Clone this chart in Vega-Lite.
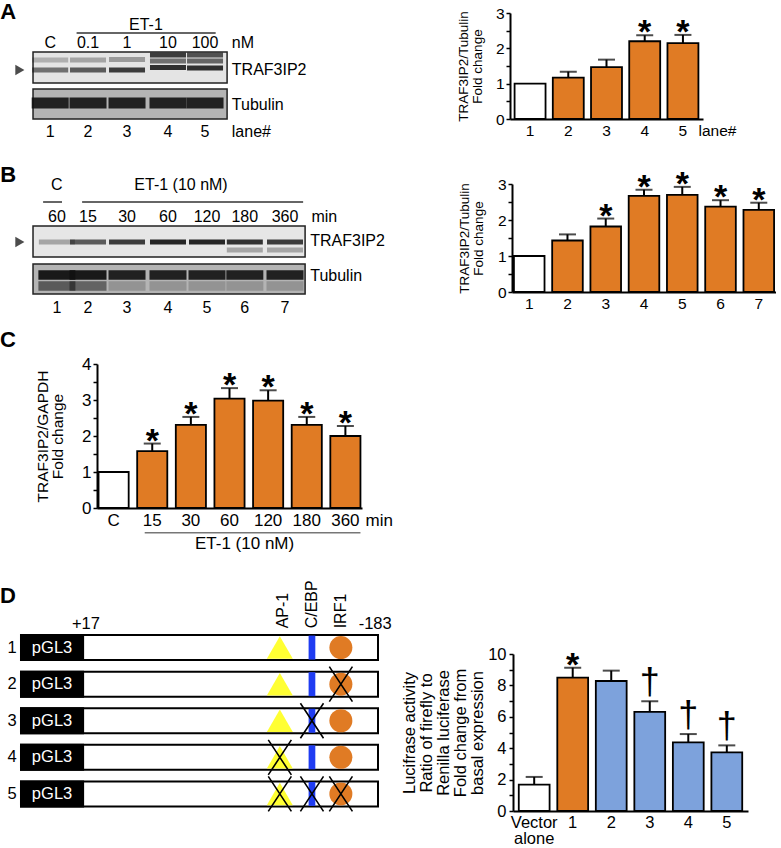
{
  "$schema": "https://vega.github.io/schema/vega-lite/v6.json",
  "padding": 0,
  "background": "white",
  "spacing": 0,
  "resolve": {"scale": {"fill": "independent", "opacity": "independent"}},
  "config": {
    "font": "Liberation Sans",
    "view": {"stroke": null},
    "concat": {"spacing": 0},
    "axis": {"domainColor": "black", "domainWidth": 2, "tickColor": "black", "tickWidth": 1.5, "labelColor": "black", "titleColor": "black", "grid": false, "titleFontWeight": "normal", "labelFont": "Liberation Sans", "titleFont": "Liberation Sans", "labelOverlap": false},
    "text": {"font": "Liberation Sans", "color": "black"}
  },
  "vconcat": [
    {
      "resolve": {"scale": {"fill": "independent", "opacity": "independent"}},
      "hconcat": [
        {
          "width": 330, "height": 155,
          "layer": [
            {
              "data": {"values": [{"blot": "TRAF3IP2", "x1": 0.604, "x2": 5.53, "y1": 5.2, "y2": 8.3}, {"blot": "Tubulin", "x1": 0.604, "x2": 5.53, "y1": 8.9, "y2": 11.9}]},
              "mark": {"type": "rect", "stroke": "#222", "strokeWidth": 1.5},
              "encoding": {
                "x": {"field": "x1", "type": "quantitative", "scale": {"domain": [-0.234, 8.142]}, "axis": null},
                "x2": {"field": "x2"},
                "y": {"field": "y1", "type": "quantitative", "scale": {"domain": [0, 15.5], "reverse": true}, "axis": null},
                "y2": {"field": "y2"},
                "fill": {"field": "blot", "type": "nominal", "scale": {"domain": ["TRAF3IP2", "Tubulin"], "range": ["#e4e4e4", "#b4b4b4"]}, "legend": null}
              }
            },
            {
              "data": {"values": [
                {"pos": 1.04, "y": 7.0, "intensity": 0.55}, {"pos": 2, "y": 7.0, "intensity": 0.65}, {"pos": 2.99, "y": 7.0, "intensity": 0.8}, {"pos": 4.03, "y": 6.75, "intensity": 0.85}, {"pos": 4.97, "y": 6.8, "intensity": 0.85},
                {"pos": 1.04, "y": 6.0, "intensity": 0.25}, {"pos": 2, "y": 6.0, "intensity": 0.3}, {"pos": 2.99, "y": 5.95, "intensity": 0.35}, {"pos": 4.03, "y": 5.5, "intensity": 0.8}, {"pos": 4.97, "y": 5.5, "intensity": 0.7},
                {"pos": 4.03, "y": 6.1, "intensity": 0.55}, {"pos": 4.97, "y": 6.1, "intensity": 0.6}
              ]},
              "mark": {"type": "point", "shape": "M-1,-0.14L1,-0.14L1,0.14L-1,0.14Z", "filled": true, "color": "#111", "size": 1296, "strokeWidth": 0},
              "encoding": {
                "x": {"field": "pos", "type": "quantitative", "scale": {"domain": [-0.234, 8.142]}, "axis": null},
                "y": {"field": "y", "type": "quantitative", "scale": {"domain": [0, 15.5], "reverse": true}, "axis": null},
                "opacity": {"field": "intensity", "type": "quantitative", "scale": {"domain": [0, 1], "range": [0, 1]}, "legend": null}
              }
            },
            {
              "data": {"values": [
                {"pos": 1.04, "y": 10.3, "intensity": 0.9}, {"pos": 2, "y": 10.3, "intensity": 0.9}, {"pos": 2.99, "y": 10.3, "intensity": 0.9}, {"pos": 4.03, "y": 10.3, "intensity": 0.9}, {"pos": 4.97, "y": 10.3, "intensity": 0.9}
              ]},
              "mark": {"type": "point", "shape": "M-1,-0.3L1,-0.3L1,0.3L-1,0.3Z", "filled": true, "color": "#111", "size": 1369, "strokeWidth": 0},
              "encoding": {
                "x": {"field": "pos", "type": "quantitative", "scale": {"domain": [-0.234, 8.142]}, "axis": null},
                "y": {"field": "y", "type": "quantitative", "scale": {"domain": [0, 15.5], "reverse": true}, "axis": null},
                "opacity": {"field": "intensity", "type": "quantitative", "scale": {"domain": [0, 1], "range": [0, 1]}, "legend": null}
              }
            },
            {
              "data": {"values": [{"x1": 1.71, "x2": 5.24, "y": 3.3}]},
              "mark": {"type": "rule", "color": "#333", "strokeWidth": 1.5},
              "encoding": {
                "x": {"field": "x1", "type": "quantitative", "scale": {"domain": [-0.234, 8.142]}, "axis": null},
                "x2": {"field": "x2"},
                "y": {"field": "y", "type": "quantitative", "scale": {"domain": [0, 15.5], "reverse": true}, "axis": null}
              }
            },
            {
              "data": {"values": [{"pos": 0.27, "y": 7.0}]},
              "mark": {"type": "point", "shape": "triangle-right", "filled": true, "color": "black", "size": 110},
              "encoding": {
                "x": {"field": "pos", "type": "quantitative", "scale": {"domain": [-0.234, 8.142]}, "axis": null},
                "y": {"field": "y", "type": "quantitative", "scale": {"domain": [0, 15.5], "reverse": true}, "axis": null}
              }
            },
            {
              "data": {"values": [
                {"label": "ET-1", "pos": 3.47, "y": 2.5},
                {"label": "C", "pos": 1.04, "y": 4.3}, {"label": "0.1", "pos": 2, "y": 4.3}, {"label": "1", "pos": 2.99, "y": 4.3}, {"label": "10", "pos": 4.03, "y": 4.3}, {"label": "100", "pos": 4.97, "y": 4.3},
                {"label": "1", "pos": 1.04, "y": 13.2}, {"label": "2", "pos": 2, "y": 13.2}, {"label": "3", "pos": 2.99, "y": 13.2}, {"label": "4", "pos": 4.03, "y": 13.2}, {"label": "5", "pos": 4.97, "y": 13.2}
              ]},
              "mark": {"type": "text", "fontSize": 16, "align": "center", "baseline": "middle"},
              "encoding": {
                "x": {"field": "pos", "type": "quantitative", "scale": {"domain": [-0.234, 8.142]}, "axis": null},
                "y": {"field": "y", "type": "quantitative", "scale": {"domain": [0, 15.5], "reverse": true}, "axis": null},
                "text": {"field": "label"}
              }
            },
            {
              "data": {"values": [
                {"label": "nM", "pos": 5.65, "y": 4.3}, {"label": "TRAF3IP2", "pos": 5.65, "y": 7.0}, {"label": "Tubulin", "pos": 5.65, "y": 10.5}, {"label": "lane#", "pos": 5.65, "y": 13.2}
              ]},
              "mark": {"type": "text", "fontSize": 16, "align": "left", "baseline": "middle"},
              "encoding": {
                "x": {"field": "pos", "type": "quantitative", "scale": {"domain": [-0.234, 8.142]}, "axis": null},
                "y": {"field": "y", "type": "quantitative", "scale": {"domain": [0, 15.5], "reverse": true}, "axis": null},
                "text": {"field": "label"}
              }
            },
            {
              "data": {"values": [{"label": "A", "pos": -0.23, "y": 1.2}]},
              "mark": {"type": "text", "fontSize": 22, "fontWeight": "bold", "align": "left", "baseline": "middle"},
              "encoding": {
                "x": {"field": "pos", "type": "quantitative", "scale": {"domain": [-0.234, 8.142]}, "axis": null},
                "y": {"field": "y", "type": "quantitative", "scale": {"domain": [0, 15.5], "reverse": true}, "axis": null},
                "text": {"field": "label"}
              }
            }
          ]
        },
        {
          "spacing": 0,
          "resolve": {"scale": {"fill": "independent", "opacity": "independent"}},
          "vconcat": [
            {"width": 150, "height": 5.25, "data": {"values": [{}]}, "mark": {"type": "point", "size": 0, "opacity": 0}, "encoding": {}},
            {
              "width": 193, "height": 106,
              "data": {"values": [
                {"lane": "1", "value": 1.0, "err": null, "group": "control", "sig": ""},
                {"lane": "2", "value": 1.17, "err": 1.34, "group": "ET-1", "sig": ""},
                {"lane": "3", "value": 1.47, "err": 1.68, "group": "ET-1", "sig": ""},
                {"lane": "4", "value": 2.2, "err": 2.37, "group": "ET-1", "sig": "*"},
                {"lane": "5", "value": 2.15, "err": 2.38, "group": "ET-1", "sig": "*"}
              ]},
              "encoding": {
                "x": {"field": "lane", "type": "nominal", "sort": null, "scale": {"domain": ["1", "2", "3", "4", "5"], "paddingInner": 0.19, "paddingOuter": 0.12},
                  "axis": {"labelAngle": 0, "ticks": false, "labelFontSize": 15.5, "labelPadding": 4, "title": "lane#", "titleAngle": 0, "titleAlign": "left", "titleBaseline": "top", "titleFontSize": 15.5, "titleX": 188, "titleY": 4}}
              },
              "layer": [
                {
                  "mark": {"type": "bar", "stroke": "black", "strokeWidth": 1.8},
                  "encoding": {
                    "y": {"field": "value", "type": "quantitative", "scale": {"domain": [0, 3]},
                      "axis": {"values": [0, 0.5, 1, 1.5, 2, 2.5, 3], "labelExpr": "datum.value % 1 === 0 ? format(datum.value, 'd') : ''", "labelOverlap": false, "tickSize": 4, "labelFontSize": 15.5, "labelPadding": 2, "title": ["TRAF3IP2/Tubulin", "Fold change"], "titleFontSize": 13.5, "titleLineHeight": 14, "titlePadding": 11}},
                    "fill": {"field": "group", "type": "nominal", "scale": {"domain": ["control", "ET-1"], "range": ["white", "#E07B24"]}, "legend": null}
                  }
                },
                {
                  "transform": [{"filter": "datum.err != null"}],
                  "mark": {"type": "rule", "color": "black", "strokeWidth": 2},
                  "encoding": {
                    "y": {"field": "value", "type": "quantitative", "scale": {"domain": [0, 3]},
                      "axis": {"values": [0, 0.5, 1, 1.5, 2, 2.5, 3], "labelExpr": "datum.value % 1 === 0 ? format(datum.value, 'd') : ''", "labelOverlap": false, "tickSize": 4, "labelFontSize": 15.5, "labelPadding": 2, "title": ["TRAF3IP2/Tubulin", "Fold change"], "titleFontSize": 13.5, "titleLineHeight": 14, "titlePadding": 11}},
                    "y2": {"field": "err"}
                  }
                },
                {
                  "transform": [{"filter": "datum.err != null"}],
                  "mark": {"type": "tick", "color": "black", "size": 17, "thickness": 2},
                  "encoding": {
                    "y": {"field": "err", "type": "quantitative", "scale": {"domain": [0, 3]},
                      "axis": {"values": [0, 0.5, 1, 1.5, 2, 2.5, 3], "labelExpr": "datum.value % 1 === 0 ? format(datum.value, 'd') : ''", "labelOverlap": false, "tickSize": 4, "labelFontSize": 15.5, "labelPadding": 2, "title": ["TRAF3IP2/Tubulin", "Fold change"], "titleFontSize": 13.5, "titleLineHeight": 14, "titlePadding": 11}}
                  }
                },
                {
                  "transform": [{"filter": "datum.sig != ''"}],
                  "mark": {"type": "text", "fontSize": 34, "fontWeight": "bold", "baseline": "alphabetic", "dy": 8},
                  "encoding": {
                    "y": {"field": "err", "type": "quantitative", "scale": {"domain": [0, 3]},
                      "axis": {"values": [0, 0.5, 1, 1.5, 2, 2.5, 3], "labelExpr": "datum.value % 1 === 0 ? format(datum.value, 'd') : ''", "labelOverlap": false, "tickSize": 4, "labelFontSize": 15.5, "labelPadding": 2, "title": ["TRAF3IP2/Tubulin", "Fold change"], "titleFontSize": 13.5, "titleLineHeight": 14, "titlePadding": 11}},
                    "text": {"field": "sig"}
                  }
                }
              ]
            }
          ]
        }
      ],
      "spacing": 126
    },
    {
      "resolve": {"scale": {"fill": "independent", "opacity": "independent"}},
      "hconcat": [
        {
          "width": 390, "height": 167,
          "layer": [
            {
              "data": {"values": [{"blot": "TRAF3IP2", "x1": 0.604, "x2": 7.51, "y1": 7.1, "y2": 10.2}, {"blot": "Tubulin", "x1": 0.604, "x2": 7.51, "y1": 10.9, "y2": 13.9}]},
              "mark": {"type": "rect", "stroke": "#222", "strokeWidth": 1.5},
              "encoding": {
                "x": {"field": "x1", "type": "quantitative", "scale": {"domain": [-0.234, 9.665]}, "axis": null},
                "x2": {"field": "x2"},
                "y": {"field": "y1", "type": "quantitative", "scale": {"domain": [0, 16.7], "reverse": true}, "axis": null},
                "y2": {"field": "y2"},
                "fill": {"field": "blot", "type": "nominal", "scale": {"domain": ["TRAF3IP2", "Tubulin"], "range": ["#e6e6e6", "#b4b4b4"]}, "legend": null}
              }
            },
            {
              "data": {"values": [
                {"pos": 1.21, "y": 8.7, "intensity": 0.3}, {"pos": 2, "y": 8.7, "intensity": 0.65}, {"pos": 2.99, "y": 8.7, "intensity": 0.8}, {"pos": 4.03, "y": 8.7, "intensity": 0.9}, {"pos": 5.02, "y": 8.7, "intensity": 0.9}, {"pos": 5.98, "y": 8.7, "intensity": 0.85}, {"pos": 7.0, "y": 8.7, "intensity": 0.8},
                {"pos": 5.98, "y": 9.5, "intensity": 0.3}, {"pos": 7.0, "y": 9.5, "intensity": 0.3}
              ]},
              "mark": {"type": "point", "shape": "M-1,-0.14L1,-0.14L1,0.14L-1,0.14Z", "filled": true, "color": "#111", "size": 1296, "strokeWidth": 0},
              "encoding": {
                "x": {"field": "pos", "type": "quantitative", "scale": {"domain": [-0.234, 9.665]}, "axis": null},
                "y": {"field": "y", "type": "quantitative", "scale": {"domain": [0, 16.7], "reverse": true}, "axis": null},
                "opacity": {"field": "intensity", "type": "quantitative", "scale": {"domain": [0, 1], "range": [0, 1]}, "legend": null}
              }
            },
            {
              "data": {"values": [
                {"pos": 1.21, "y": 12.0, "intensity": 0.95}, {"pos": 2, "y": 12.0, "intensity": 0.95}, {"pos": 2.99, "y": 12.0, "intensity": 0.9}, {"pos": 4.03, "y": 12.0, "intensity": 0.9}, {"pos": 5.02, "y": 12.0, "intensity": 0.9}, {"pos": 5.98, "y": 12.0, "intensity": 0.9}, {"pos": 7.0, "y": 12.0, "intensity": 0.9},
                {"pos": 1.21, "y": 13.1, "intensity": 0.55}, {"pos": 2, "y": 13.1, "intensity": 0.5}, {"pos": 2.99, "y": 13.1, "intensity": 0.2}, {"pos": 4.03, "y": 13.1, "intensity": 0.2}, {"pos": 5.02, "y": 13.1, "intensity": 0.2}, {"pos": 5.98, "y": 13.1, "intensity": 0.2}, {"pos": 7.0, "y": 13.1, "intensity": 0.2}
              ]},
              "mark": {"type": "point", "shape": "M-1,-0.26L1,-0.26L1,0.26L-1,0.26Z", "filled": true, "color": "#111", "size": 1369, "strokeWidth": 0},
              "encoding": {
                "x": {"field": "pos", "type": "quantitative", "scale": {"domain": [-0.234, 9.665]}, "axis": null},
                "y": {"field": "y", "type": "quantitative", "scale": {"domain": [0, 16.7], "reverse": true}, "axis": null},
                "opacity": {"field": "intensity", "type": "quantitative", "scale": {"domain": [0, 1], "range": [0, 1]}, "legend": null}
              }
            },
            {
              "data": {"values": [{"x1": 0.86, "x2": 1.34, "y": 4.7}, {"x1": 1.85, "x2": 7.46, "y": 4.7}]},
              "mark": {"type": "rule", "color": "#333", "strokeWidth": 1.5},
              "encoding": {
                "x": {"field": "x1", "type": "quantitative", "scale": {"domain": [-0.234, 9.665]}, "axis": null},
                "x2": {"field": "x2"},
                "y": {"field": "y", "type": "quantitative", "scale": {"domain": [0, 16.7], "reverse": true}, "axis": null}
              }
            },
            {
              "data": {"values": [{"pos": 0.27, "y": 8.7}]},
              "mark": {"type": "point", "shape": "triangle-right", "filled": true, "color": "black", "size": 110},
              "encoding": {
                "x": {"field": "pos", "type": "quantitative", "scale": {"domain": [-0.234, 9.665]}, "axis": null},
                "y": {"field": "y", "type": "quantitative", "scale": {"domain": [0, 16.7], "reverse": true}, "axis": null}
              }
            },
            {
              "data": {"values": [
                {"label": "C", "pos": 1.21, "y": 3.0}, {"label": "ET-1 (10 nM)", "pos": 4.36, "y": 3.0},
                {"label": "60", "pos": 1.21, "y": 6.2}, {"label": "15", "pos": 2, "y": 6.2}, {"label": "30", "pos": 2.99, "y": 6.2}, {"label": "60", "pos": 4.03, "y": 6.2}, {"label": "120", "pos": 5.02, "y": 6.2}, {"label": "180", "pos": 5.98, "y": 6.2}, {"label": "360", "pos": 7.0, "y": 6.2},
                {"label": "1", "pos": 1.21, "y": 15.3}, {"label": "2", "pos": 2, "y": 15.3}, {"label": "3", "pos": 2.99, "y": 15.3}, {"label": "4", "pos": 4.03, "y": 15.3}, {"label": "5", "pos": 5.02, "y": 15.3}, {"label": "6", "pos": 5.98, "y": 15.3}, {"label": "7", "pos": 7.0, "y": 15.3}
              ]},
              "mark": {"type": "text", "fontSize": 16, "align": "center", "baseline": "middle"},
              "encoding": {
                "x": {"field": "pos", "type": "quantitative", "scale": {"domain": [-0.234, 9.665]}, "axis": null},
                "y": {"field": "y", "type": "quantitative", "scale": {"domain": [0, 16.7], "reverse": true}, "axis": null},
                "text": {"field": "label"}
              }
            },
            {
              "data": {"values": [{"label": "min", "pos": 7.67, "y": 6.2}, {"label": "TRAF3IP2", "pos": 7.64, "y": 8.6}, {"label": "Tubulin", "pos": 7.64, "y": 12.1}]},
              "mark": {"type": "text", "fontSize": 16, "align": "left", "baseline": "middle"},
              "encoding": {
                "x": {"field": "pos", "type": "quantitative", "scale": {"domain": [-0.234, 9.665]}, "axis": null},
                "y": {"field": "y", "type": "quantitative", "scale": {"domain": [0, 16.7], "reverse": true}, "axis": null},
                "text": {"field": "label"}
              }
            },
            {
              "data": {"values": [{"label": "B", "pos": -0.23, "y": 2.0}]},
              "mark": {"type": "text", "fontSize": 22, "fontWeight": "bold", "align": "left", "baseline": "middle"},
              "encoding": {
                "x": {"field": "pos", "type": "quantitative", "scale": {"domain": [-0.234, 9.665]}, "axis": null},
                "y": {"field": "y", "type": "quantitative", "scale": {"domain": [0, 16.7], "reverse": true}, "axis": null},
                "text": {"field": "label"}
              }
            }
          ]
        },
        {
          "spacing": 0,
          "resolve": {"scale": {"fill": "independent", "opacity": "independent"}},
          "vconcat": [
            {"width": 150, "height": 12, "data": {"values": [{}]}, "mark": {"type": "point", "size": 0, "opacity": 0}, "encoding": {}},
            {
              "width": 264, "height": 108,
              "data": {"values": [
                {"lane": "1", "value": 1.0, "err": null, "group": "control", "sig": ""},
                {"lane": "2", "value": 1.43, "err": 1.6, "group": "ET-1", "sig": ""},
                {"lane": "3", "value": 1.82, "err": 2.04, "group": "ET-1", "sig": "*"},
                {"lane": "4", "value": 2.67, "err": 2.84, "group": "ET-1", "sig": "*"},
                {"lane": "5", "value": 2.7, "err": 2.92, "group": "ET-1", "sig": "*"},
                {"lane": "6", "value": 2.37, "err": 2.55, "group": "ET-1", "sig": "*"},
                {"lane": "7", "value": 2.28, "err": 2.48, "group": "ET-1", "sig": "*"}
              ]},
              "encoding": {
                "x": {"field": "lane", "type": "nominal", "sort": null, "scale": {"domain": ["1", "2", "3", "4", "5", "6", "7"], "paddingInner": 0.2, "paddingOuter": 0.05},
                  "axis": {"labelAngle": 0, "ticks": false, "labelFontSize": 15.5, "labelPadding": 4, "title": null}}
              },
              "layer": [
                {
                  "mark": {"type": "bar", "stroke": "black", "strokeWidth": 1.8},
                  "encoding": {
                    "y": {"field": "value", "type": "quantitative", "scale": {"domain": [0, 3]},
                      "axis": {"values": [0, 0.5, 1, 1.5, 2, 2.5, 3], "labelExpr": "datum.value % 1 === 0 ? format(datum.value, 'd') : ''", "labelOverlap": false, "tickSize": 4, "labelFontSize": 15.5, "labelPadding": 2, "title": ["TRAF3IP2/Tubulin", "Fold change"], "titleFontSize": 13.5, "titleLineHeight": 14, "titlePadding": 12}},
                    "fill": {"field": "group", "type": "nominal", "scale": {"domain": ["control", "ET-1"], "range": ["white", "#E07B24"]}, "legend": null}
                  }
                },
                {
                  "transform": [{"filter": "datum.err != null"}],
                  "mark": {"type": "rule", "color": "black", "strokeWidth": 2},
                  "encoding": {
                    "y": {"field": "value", "type": "quantitative", "scale": {"domain": [0, 3]},
                      "axis": {"values": [0, 0.5, 1, 1.5, 2, 2.5, 3], "labelExpr": "datum.value % 1 === 0 ? format(datum.value, 'd') : ''", "labelOverlap": false, "tickSize": 4, "labelFontSize": 15.5, "labelPadding": 2, "title": ["TRAF3IP2/Tubulin", "Fold change"], "titleFontSize": 13.5, "titleLineHeight": 14, "titlePadding": 12}},
                    "y2": {"field": "err"}
                  }
                },
                {
                  "transform": [{"filter": "datum.err != null"}],
                  "mark": {"type": "tick", "color": "black", "size": 17, "thickness": 2},
                  "encoding": {
                    "y": {"field": "err", "type": "quantitative", "scale": {"domain": [0, 3]},
                      "axis": {"values": [0, 0.5, 1, 1.5, 2, 2.5, 3], "labelExpr": "datum.value % 1 === 0 ? format(datum.value, 'd') : ''", "labelOverlap": false, "tickSize": 4, "labelFontSize": 15.5, "labelPadding": 2, "title": ["TRAF3IP2/Tubulin", "Fold change"], "titleFontSize": 13.5, "titleLineHeight": 14, "titlePadding": 12}}
                  }
                },
                {
                  "transform": [{"filter": "datum.sig != ''"}],
                  "mark": {"type": "text", "fontSize": 34, "fontWeight": "bold", "baseline": "alphabetic", "dy": 8},
                  "encoding": {
                    "y": {"field": "err", "type": "quantitative", "scale": {"domain": [0, 3]},
                      "axis": {"values": [0, 0.5, 1, 1.5, 2, 2.5, 3], "labelExpr": "datum.value % 1 === 0 ? format(datum.value, 'd') : ''", "labelOverlap": false, "tickSize": 4, "labelFontSize": 15.5, "labelPadding": 2, "title": ["TRAF3IP2/Tubulin", "Fold change"], "titleFontSize": 13.5, "titleLineHeight": 14, "titlePadding": 12}},
                    "text": {"field": "sig"}
                  }
                }
              ]
            }
          ]
        }
      ],
      "spacing": 67
    },
    {
      "resolve": {"scale": {"fill": "independent", "opacity": "independent"}},
      "hconcat": [
        {
          "width": 35, "height": 258,
          "data": {"values": [{"label": "C"}]},
          "mark": {"type": "text", "fontSize": 22, "fontWeight": "bold", "align": "left", "baseline": "middle"},
          "encoding": {
            "x": {"datum": 0, "type": "quantitative", "scale": {"domain": [0, 1]}, "axis": null},
            "y": {"datum": 0.07, "type": "quantitative", "scale": {"domain": [0, 1], "reverse": true}, "axis": null},
            "text": {"field": "label"}
          }
        },
        {
          "spacing": 0,
          "resolve": {"scale": {"fill": "independent", "opacity": "independent"}},
          "vconcat": [
            {"width": 150, "height": 32.5, "data": {"values": [{}]}, "mark": {"type": "point", "size": 0, "opacity": 0}, "encoding": {}},
            {
              "width": 265, "height": 144,
              "layer": [
                {
                  "data": {"values": [
                    {"time": "C", "value": 1.0, "err": null, "group": "control", "sig": ""},
                    {"time": "15", "value": 1.58, "err": 1.79, "group": "ET-1", "sig": "*"},
                    {"time": "30", "value": 2.31, "err": 2.53, "group": "ET-1", "sig": "*"},
                    {"time": "60", "value": 3.04, "err": 3.33, "group": "ET-1", "sig": "*"},
                    {"time": "120", "value": 2.98, "err": 3.27, "group": "ET-1", "sig": "*"},
                    {"time": "180", "value": 2.31, "err": 2.53, "group": "ET-1", "sig": "*"},
                    {"time": "360", "value": 2.0, "err": 2.28, "group": "ET-1", "sig": "*"}
                  ]},
                  "layer": [
                    {
                      "mark": {"type": "bar", "stroke": "black", "strokeWidth": 1.8},
                      "encoding": {
                        "x": {"field": "time", "type": "nominal", "sort": null, "scale": {"domain": ["C", "15", "30", "60", "120", "180", "360"], "paddingInner": 0.22, "paddingOuter": 0.04},
                          "axis": {"labelAngle": 0, "ticks": false, "labelFontSize": 17, "labelPadding": 4, "title": "min", "titleAngle": 0, "titleAlign": "left", "titleBaseline": "top", "titleFontSize": 17, "titleX": 268, "titleY": 4}},
                        "y": {"field": "value", "type": "quantitative", "scale": {"domain": [0, 4]},
                          "axis": {"values": [0, 0.5, 1, 1.5, 2, 2.5, 3, 3.5, 4], "labelExpr": "datum.value % 1 === 0 ? format(datum.value, 'd') : ''", "labelOverlap": false, "tickSize": 4, "labelFontSize": 17, "labelPadding": 2, "title": ["TRAF3IP2/GAPDH", "Fold change"], "titleFontSize": 15.5, "titleLineHeight": 15, "titlePadding": 16}},
                        "fill": {"field": "group", "type": "nominal", "scale": {"domain": ["control", "ET-1"], "range": ["white", "#E07B24"]}, "legend": null}
                      }
                    },
                    {
                      "transform": [{"filter": "datum.err != null"}],
                      "mark": {"type": "rule", "color": "black", "strokeWidth": 2},
                      "encoding": {
                        "x": {"field": "time", "type": "nominal", "sort": null, "scale": {"domain": ["C", "15", "30", "60", "120", "180", "360"]}},
                        "y": {"field": "value", "type": "quantitative", "scale": {"domain": [0, 4]},
                          "axis": {"values": [0, 0.5, 1, 1.5, 2, 2.5, 3, 3.5, 4], "labelExpr": "datum.value % 1 === 0 ? format(datum.value, 'd') : ''", "labelOverlap": false, "tickSize": 4, "labelFontSize": 17, "labelPadding": 2, "title": ["TRAF3IP2/GAPDH", "Fold change"], "titleFontSize": 15.5, "titleLineHeight": 15, "titlePadding": 16}},
                        "y2": {"field": "err"}
                      }
                    },
                    {
                      "transform": [{"filter": "datum.err != null"}],
                      "mark": {"type": "tick", "color": "black", "size": 17, "thickness": 2},
                      "encoding": {
                        "x": {"field": "time", "type": "nominal", "sort": null, "scale": {"domain": ["C", "15", "30", "60", "120", "180", "360"]}},
                        "y": {"field": "err", "type": "quantitative", "scale": {"domain": [0, 4]},
                          "axis": {"values": [0, 0.5, 1, 1.5, 2, 2.5, 3, 3.5, 4], "labelExpr": "datum.value % 1 === 0 ? format(datum.value, 'd') : ''", "labelOverlap": false, "tickSize": 4, "labelFontSize": 17, "labelPadding": 2, "title": ["TRAF3IP2/GAPDH", "Fold change"], "titleFontSize": 15.5, "titleLineHeight": 15, "titlePadding": 16}}
                      }
                    },
                    {
                      "transform": [{"filter": "datum.sig != ''"}],
                      "mark": {"type": "text", "fontSize": 34, "fontWeight": "bold", "baseline": "alphabetic", "dy": 8},
                      "encoding": {
                        "x": {"field": "time", "type": "nominal", "sort": null, "scale": {"domain": ["C", "15", "30", "60", "120", "180", "360"]}},
                        "y": {"field": "err", "type": "quantitative", "scale": {"domain": [0, 4]},
                          "axis": {"values": [0, 0.5, 1, 1.5, 2, 2.5, 3, 3.5, 4], "labelExpr": "datum.value % 1 === 0 ? format(datum.value, 'd') : ''", "labelOverlap": false, "tickSize": 4, "labelFontSize": 17, "labelPadding": 2, "title": ["TRAF3IP2/GAPDH", "Fold change"], "titleFontSize": 15.5, "titleLineHeight": 15, "titlePadding": 16}},
                        "text": {"field": "sig"}
                      }
                    }
                  ]
                },
                {
                  "data": {"values": [{"start": "15", "end": "360", "y": -0.69}]},
                  "mark": {"type": "rule", "color": "#777", "strokeWidth": 1.5},
                  "encoding": {
                    "x": {"field": "start", "type": "nominal", "sort": null, "bandPosition": 0.25, "scale": {"domain": ["C", "15", "30", "60", "120", "180", "360"]}},
                    "x2": {"field": "end", "bandPosition": 1},
                    "y": {"field": "y", "type": "quantitative", "scale": {"domain": [0, 4]},
                      "axis": {"values": [0, 0.5, 1, 1.5, 2, 2.5, 3, 3.5, 4], "labelExpr": "datum.value % 1 === 0 ? format(datum.value, 'd') : ''", "labelOverlap": false, "tickSize": 4, "labelFontSize": 17, "labelPadding": 2, "title": ["TRAF3IP2/GAPDH", "Fold change"], "titleFontSize": 15.5, "titleLineHeight": 15, "titlePadding": 16}}
                  }
                },
                {
                  "data": {"values": [{"time": "60", "y": -1.0, "label": "ET-1 (10 nM)"}]},
                  "mark": {"type": "text", "fontSize": 17, "baseline": "middle"},
                  "encoding": {
                    "x": {"field": "time", "type": "nominal", "sort": null, "bandPosition": 1, "scale": {"domain": ["C", "15", "30", "60", "120", "180", "360"]}},
                    "y": {"field": "y", "type": "quantitative", "scale": {"domain": [0, 4]},
                      "axis": {"values": [0, 0.5, 1, 1.5, 2, 2.5, 3, 3.5, 4], "labelExpr": "datum.value % 1 === 0 ? format(datum.value, 'd') : ''", "labelOverlap": false, "tickSize": 4, "labelFontSize": 17, "labelPadding": 2, "title": ["TRAF3IP2/GAPDH", "Fold change"], "titleFontSize": 15.5, "titleLineHeight": 15, "titlePadding": 16}},
                    "text": {"field": "label"}
                  }
                }
              ]
            }
          ]
        }
      ]
    },
    {
      "resolve": {"scale": {"fill": "independent", "opacity": "independent"}},
      "hconcat": [
        {
          "width": 395, "height": 268,
          "layer": [
            {
              "data": {"values": [{"construct": 1}, {"construct": 2}, {"construct": 3}, {"construct": 4}, {"construct": 5}]},
              "layer": [
                {
                  "mark": {"type": "bar", "orient": "horizontal", "fill": "white", "stroke": "black", "strokeWidth": 2, "height": 25},
                  "encoding": {
                    "x": {"datum": 0, "type": "quantitative", "scale": {"domain": [-5.88, 104.76]}, "axis": null},
                    "x2": {"datum": 100},
                    "y": {"field": "construct", "type": "quantitative", "scale": {"domain": [-0.711, 6.342], "reverse": true}, "axis": null}
                  }
                },
                {
                  "mark": {"type": "bar", "orient": "horizontal", "fill": "black", "stroke": "black", "strokeWidth": 2, "height": 25},
                  "encoding": {
                    "x": {"datum": 0, "type": "quantitative", "scale": {"domain": [-5.88, 104.76]}, "axis": null},
                    "x2": {"datum": 17.4},
                    "y": {"field": "construct", "type": "quantitative", "scale": {"domain": [-0.711, 6.342], "reverse": true}, "axis": null}
                  }
                },
                {
                  "mark": {"type": "text", "text": "pGL3", "color": "white", "fontSize": 16.5, "baseline": "middle"},
                  "encoding": {
                    "x": {"datum": 8.7, "type": "quantitative", "scale": {"domain": [-5.88, 104.76]}, "axis": null},
                    "y": {"field": "construct", "type": "quantitative", "scale": {"domain": [-0.711, 6.342], "reverse": true}, "axis": null}
                  }
                },
                {
                  "mark": {"type": "text", "fontSize": 16.5, "baseline": "middle"},
                  "encoding": {
                    "x": {"datum": -2.5, "type": "quantitative", "scale": {"domain": [-5.88, 104.76]}, "axis": null},
                    "y": {"field": "construct", "type": "quantitative", "scale": {"domain": [-0.711, 6.342], "reverse": true}, "axis": null},
                    "text": {"field": "construct"}
                  }
                }
              ]
            },
            {
              "data": {"values": [
                {"construct": 1, "site": "AP-1", "pos": 72.5, "mutated": false}, {"construct": 1, "site": "C/EBP", "pos": 81.5, "mutated": false}, {"construct": 1, "site": "IRF1", "pos": 89.6, "mutated": false},
                {"construct": 2, "site": "AP-1", "pos": 72.5, "mutated": false}, {"construct": 2, "site": "C/EBP", "pos": 81.5, "mutated": false}, {"construct": 2, "site": "IRF1", "pos": 89.6, "mutated": true},
                {"construct": 3, "site": "AP-1", "pos": 72.5, "mutated": false}, {"construct": 3, "site": "C/EBP", "pos": 81.5, "mutated": true}, {"construct": 3, "site": "IRF1", "pos": 89.6, "mutated": false},
                {"construct": 4, "site": "AP-1", "pos": 72.5, "mutated": true}, {"construct": 4, "site": "C/EBP", "pos": 81.5, "mutated": false}, {"construct": 4, "site": "IRF1", "pos": 89.6, "mutated": false},
                {"construct": 5, "site": "AP-1", "pos": 72.5, "mutated": true}, {"construct": 5, "site": "C/EBP", "pos": 81.5, "mutated": true}, {"construct": 5, "site": "IRF1", "pos": 89.6, "mutated": true}
              ]},
              "layer": [
                {
                  "transform": [{"filter": "datum.site == 'AP-1'"}],
                  "mark": {"type": "point", "shape": "triangle-up", "filled": true, "color": "#FFFF33", "size": 676, "opacity": 1},
                  "encoding": {
                    "x": {"field": "pos", "type": "quantitative", "scale": {"domain": [-5.88, 104.76]}, "axis": null},
                    "y": {"field": "construct", "type": "quantitative", "scale": {"domain": [-0.711, 6.342], "reverse": true}, "axis": null}
                  }
                },
                {
                  "transform": [{"filter": "datum.site == 'C/EBP'"}],
                  "mark": {"type": "point", "shape": "M-0.28,-1L0.28,-1L0.28,1L-0.28,1Z", "filled": true, "color": "#1F3CF2", "size": 576, "opacity": 1},
                  "encoding": {
                    "x": {"field": "pos", "type": "quantitative", "scale": {"domain": [-5.88, 104.76]}, "axis": null},
                    "y": {"field": "construct", "type": "quantitative", "scale": {"domain": [-0.711, 6.342], "reverse": true}, "axis": null}
                  }
                },
                {
                  "transform": [{"filter": "datum.site == 'IRF1'"}],
                  "mark": {"type": "point", "shape": "circle", "filled": true, "color": "#E07B24", "size": 529, "opacity": 1},
                  "encoding": {
                    "x": {"field": "pos", "type": "quantitative", "scale": {"domain": [-5.88, 104.76]}, "axis": null},
                    "y": {"field": "construct", "type": "quantitative", "scale": {"domain": [-0.711, 6.342], "reverse": true}, "axis": null}
                  }
                },
                {
                  "transform": [{"filter": "datum.mutated"}],
                  "mark": {"type": "point", "shape": "M-0.66,-1L0.66,1M0.66,-1L-0.66,1", "filled": false, "color": "black", "strokeWidth": 1.6, "size": 1225, "opacity": 1},
                  "encoding": {
                    "x": {"field": "pos", "type": "quantitative", "scale": {"domain": [-5.88, 104.76]}, "axis": null},
                    "y": {"field": "construct", "type": "quantitative", "scale": {"domain": [-0.711, 6.342], "reverse": true}, "axis": null}
                  }
                }
              ]
            },
            {
              "data": {"values": [{"label": "AP-1", "pos": 73.4}, {"label": "C/EBP", "pos": 81.5}, {"label": "IRF1", "pos": 89.6}]},
              "mark": {"type": "text", "angle": 270, "align": "left", "baseline": "middle", "fontSize": 16},
              "encoding": {
                "x": {"field": "pos", "type": "quantitative", "scale": {"domain": [-5.88, 104.76]}, "axis": null},
                "y": {"datum": 0.474, "type": "quantitative", "scale": {"domain": [-0.711, 6.342], "reverse": true}, "axis": null},
                "text": {"field": "label"}
              }
            },
            {
              "data": {"values": [{"label": "+17", "pos": 18.2}, {"label": "-183", "pos": 99.2}]},
              "mark": {"type": "text", "baseline": "middle", "fontSize": 16.5},
              "encoding": {
                "x": {"field": "pos", "type": "quantitative", "scale": {"domain": [-5.88, 104.76]}, "axis": null},
                "y": {"datum": 0.368, "type": "quantitative", "scale": {"domain": [-0.711, 6.342], "reverse": true}, "axis": null},
                "text": {"field": "label"}
              }
            },
            {
              "data": {"values": [{"label": "D", "pos": -5.88}]},
              "mark": {"type": "text", "align": "left", "baseline": "middle", "fontSize": 22, "fontWeight": "bold"},
              "encoding": {
                "x": {"field": "pos", "type": "quantitative", "scale": {"domain": [-5.88, 104.76]}, "axis": null},
                "y": {"datum": -0.42, "type": "quantitative", "scale": {"domain": [-0.711, 6.342], "reverse": true}, "axis": null},
                "text": {"field": "label"}
              }
            }
          ]
        },
        {
          "spacing": 0,
          "resolve": {"scale": {"fill": "independent", "opacity": "independent"}},
          "vconcat": [
            {"width": 150, "height": 65.75, "data": {"values": [{}]}, "mark": {"type": "point", "size": 0, "opacity": 0}, "encoding": {}},
            {
              "width": 235, "height": 157,
              "data": {"values": [
                {"construct": "Vector alone", "value": 1.68, "err": 2.17, "group": "vector", "sig": ""},
                {"construct": "1", "value": 8.49, "err": 9.13, "group": "wild type", "sig": "*"},
                {"construct": "2", "value": 8.28, "err": 8.94, "group": "mutant", "sig": ""},
                {"construct": "3", "value": 6.31, "err": 6.99, "group": "mutant", "sig": "†"},
                {"construct": "4", "value": 4.37, "err": 4.9, "group": "mutant", "sig": "†"},
                {"construct": "5", "value": 3.74, "err": 4.18, "group": "mutant", "sig": "†"}
              ]},
              "encoding": {
                "x": {"field": "construct", "type": "nominal", "sort": null, "scale": {"domain": ["Vector alone", "1", "2", "3", "4", "5"], "paddingInner": 0.2, "paddingOuter": 0.15},
                  "axis": {"labelAngle": 0, "ticks": false, "labelFontSize": 16.5, "labelPadding": 3, "labelLineHeight": 16, "labelExpr": "datum.value == 'Vector alone' ? ['Vector', 'alone'] : datum.label", "title": null}}
              },
              "layer": [
                {
                  "mark": {"type": "bar", "stroke": "black", "strokeWidth": 1.8},
                  "encoding": {
                    "y": {"field": "value", "type": "quantitative", "scale": {"domain": [0, 10]},
                      "axis": {"values": [0, 1, 2, 3, 4, 5, 6, 7, 8, 9, 10], "labelExpr": "datum.value % 2 === 0 ? format(datum.value, 'd') : ''", "labelOverlap": false, "tickSize": 4, "labelFontSize": 16.5, "labelPadding": 3, "title": ["Lucifrase activity", "Ratio of firefly to", "Renilla luciferase", "Fold change from", "basal expression"], "titleFontSize": 16.5, "titleLineHeight": 17, "titlePadding": 2}},
                    "fill": {"field": "group", "type": "nominal", "scale": {"domain": ["vector", "wild type", "mutant"], "range": ["white", "#E07B24", "#7DA2DC"]}, "legend": null}
                  }
                },
                {
                  "mark": {"type": "rule", "color": "black", "strokeWidth": 2},
                  "encoding": {
                    "y": {"field": "value", "type": "quantitative", "scale": {"domain": [0, 10]},
                      "axis": {"values": [0, 1, 2, 3, 4, 5, 6, 7, 8, 9, 10], "labelExpr": "datum.value % 2 === 0 ? format(datum.value, 'd') : ''", "labelOverlap": false, "tickSize": 4, "labelFontSize": 16.5, "labelPadding": 3, "title": ["Lucifrase activity", "Ratio of firefly to", "Renilla luciferase", "Fold change from", "basal expression"], "titleFontSize": 16.5, "titleLineHeight": 17, "titlePadding": 2}},
                    "y2": {"field": "err"}
                  }
                },
                {
                  "mark": {"type": "tick", "color": "black", "size": 17, "thickness": 2},
                  "encoding": {
                    "y": {"field": "err", "type": "quantitative", "scale": {"domain": [0, 10]},
                      "axis": {"values": [0, 1, 2, 3, 4, 5, 6, 7, 8, 9, 10], "labelExpr": "datum.value % 2 === 0 ? format(datum.value, 'd') : ''", "labelOverlap": false, "tickSize": 4, "labelFontSize": 16.5, "labelPadding": 3, "title": ["Lucifrase activity", "Ratio of firefly to", "Renilla luciferase", "Fold change from", "basal expression"], "titleFontSize": 16.5, "titleLineHeight": 17, "titlePadding": 2}}
                  }
                },
                {
                  "transform": [{"filter": "datum.sig == '*'"}],
                  "mark": {"type": "text", "fontSize": 34, "fontWeight": "bold", "baseline": "alphabetic", "dy": 8},
                  "encoding": {
                    "y": {"field": "err", "type": "quantitative", "scale": {"domain": [0, 10]},
                      "axis": {"values": [0, 1, 2, 3, 4, 5, 6, 7, 8, 9, 10], "labelExpr": "datum.value % 2 === 0 ? format(datum.value, 'd') : ''", "labelOverlap": false, "tickSize": 4, "labelFontSize": 16.5, "labelPadding": 3, "title": ["Lucifrase activity", "Ratio of firefly to", "Renilla luciferase", "Fold change from", "basal expression"], "titleFontSize": 16.5, "titleLineHeight": 17, "titlePadding": 2}},
                    "text": {"field": "sig"}
                  }
                },
                {
                  "transform": [{"filter": "datum.sig == '†'"}],
                  "mark": {"type": "text", "fontSize": 36, "baseline": "alphabetic", "dy": -7},
                  "encoding": {
                    "y": {"field": "err", "type": "quantitative", "scale": {"domain": [0, 10]},
                      "axis": {"values": [0, 1, 2, 3, 4, 5, 6, 7, 8, 9, 10], "labelExpr": "datum.value % 2 === 0 ? format(datum.value, 'd') : ''", "labelOverlap": false, "tickSize": 4, "labelFontSize": 16.5, "labelPadding": 3, "title": ["Lucifrase activity", "Ratio of firefly to", "Renilla luciferase", "Fold change from", "basal expression"], "titleFontSize": 16.5, "titleLineHeight": 17, "titlePadding": 2}},
                    "text": {"field": "sig"}
                  }
                }
              ]
            }
          ]
        }
      ],
      "spacing": 6
    }
  ]
}
